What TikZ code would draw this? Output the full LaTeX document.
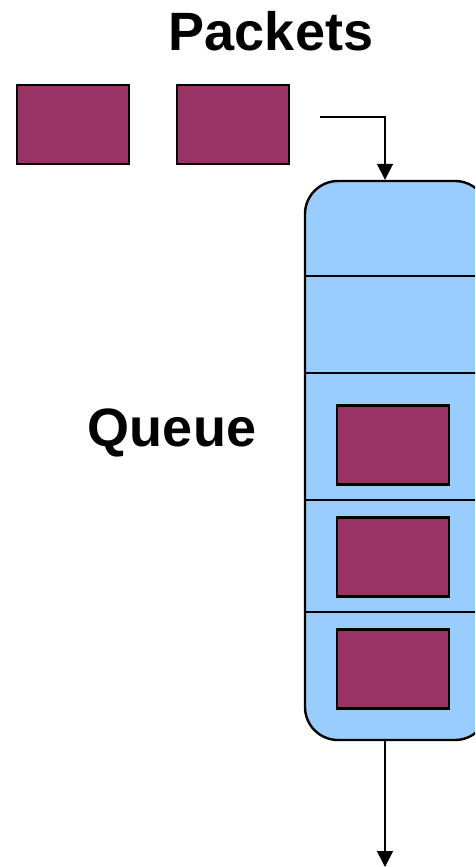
\documentclass[tikz,border=0pt]{standalone}
\usepackage{fontspec}
\setmainfont{Liberation Sans}
\usetikzlibrary{arrows.meta}
\definecolor{pktfill}{HTML}{993366}
\definecolor{qfill}{HTML}{99CCFF}
\begin{document}
\begin{tikzpicture}[x=1pt, y=-1pt,
  pkt/.style={draw, line width=2.4pt, fill=pktfill, minimum width=112pt, minimum height=79pt, inner sep=0pt},
  queuebox/.style={draw, line width=2.4pt, fill=qfill, rounded corners=33pt, minimum width=183pt, minimum height=559pt, inner sep=0pt},
  slot/.style={line width=2.4pt},
  arr/.style={-{Triangle[length=16pt,width=16pt]}, line width=1.8pt},
  lbl/.style={font=\fontsize{54}{60}\selectfont\bfseries, inner sep=0pt}
]
\clip (0,0) rectangle (475,867);
\useasboundingbox (0,0) rectangle (475,867);
% title and label
\node[lbl] (title) at (271,31) {Packets};
\node[lbl] (qlabel) at (172,433) {Queue};
% waiting packets
\node[pkt] (p1) at (73,124.5) {};
\node[pkt] (p2) at (233,124.5) {};
% the queue and its slots
\node[queuebox] (queue) at (396.5,460.5) {};
\draw[slot] (queue.west |- 0,276) -- (queue.east |- 0,276);
\draw[slot] (queue.west |- 0,373) -- (queue.east |- 0,373);
\draw[slot] (queue.west |- 0,500) -- (queue.east |- 0,500);
\draw[slot] (queue.west |- 0,612) -- (queue.east |- 0,612);
\node[pkt] (q1) at (393,445) {};
\node[pkt] (q2) at (393,557) {};
\node[pkt] (q3) at (393,669) {};
% in and out
\coordinate (in) at (320,117);
\coordinate (turn) at (385,117);
\coordinate (out) at (385,867);
\draw[arr] (in) -- (turn) -- (turn |- queue.north);
\draw[arr] (turn |- queue.south) -- (out);
\end{tikzpicture}
\end{document}
